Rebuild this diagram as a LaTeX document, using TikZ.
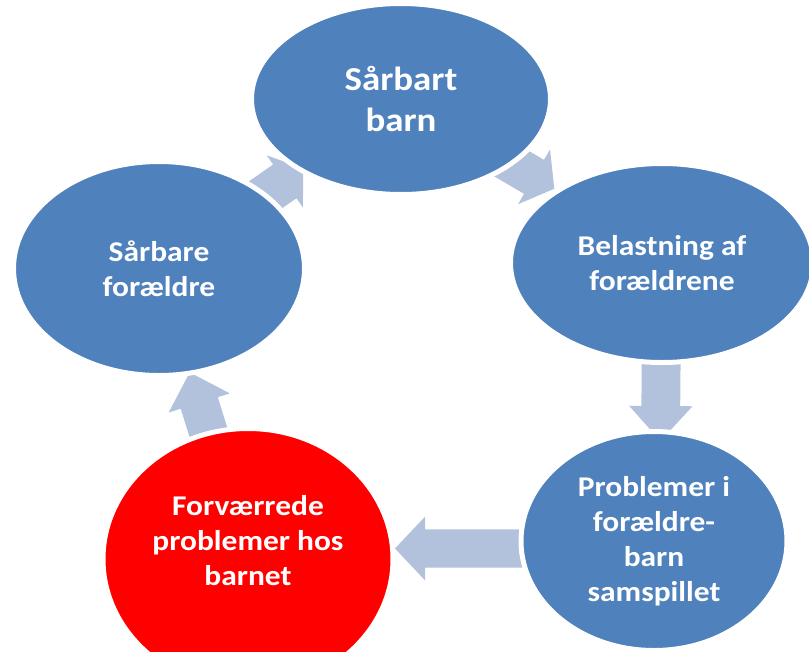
\documentclass[tikz,border=0pt]{standalone}
\usepackage{fontspec}
\setmainfont{Carlito}[FakeStretch=1.1]
\usetikzlibrary{shapes.geometric,calc,backgrounds}
\definecolor{ellblue}{RGB}{79,129,189}
\definecolor{arrowblue}{RGB}{178,193,220}
\definecolor{ellred}{RGB}{255,0,0}
\newcommand\blockarr[5]{%
  \path ($(#2)!#3!(#1)$) coordinate (hb);
  \fill[arrowfill] ($(#1)!#5!90:(#2)$) -- ($(hb)!#5!-90:(#1)$) -- ($(hb)!#4!-90:(#1)$)
    -- (#2) -- ($(hb)!#4!90:(#1)$) -- ($(hb)!#5!90:(#1)$) -- ($(#1)!#5!-90:(#2)$) -- cycle;}
\tikzset{
  ell/.style={ellipse, draw=white, line width=5pt, inner sep=0pt, text=white, align=center,
    font=\bfseries\fontsize{28.6}{35}\selectfont},
  blueell/.style={ell, fill=ellblue},
  redell/.style={ell, fill=ellred},
  lbl/.style={text=white, align=center, inner sep=0pt, font=\bfseries\fontsize{28.6}{35}\selectfont},
  arrowfill/.style={fill=arrowblue}
}
\begin{document}
\begin{tikzpicture}[x=1pt,y=-1pt]
\useasboundingbox (0,0) rectangle (809,651);
% ellipses
\node[blueell, minimum width=299pt, minimum height=191pt,
      font=\bfseries\fontsize{33.5}{40.5}\selectfont] (n1) at (401,99) {Sårbart\\barn};
\node[blueell, minimum width=303pt, minimum height=199pt] (n2) at (662,263) {Belastning af\\forældrene};
\node[blueell, minimum width=266pt, minimum height=219pt] (n3) at (654,541) {Problemer i\\forældre-\\barn\\samspillet};
\node[redell, minimum width=290pt, minimum height=261pt] (n4) at (248,559) {};
\node[lbl] (t4) at (248,541) {Forværrede\\problemer hos\\barnet};
\node[blueell, minimum width=291pt, minimum height=214pt] (n5) at (159,268.5) {Sårbare\\forældre};
% arrow tips and starts
\coordinate (tA) at (303.3,168.6);
\coordinate (tB) at (554.3,188.7);
\coordinate (tC) at (660.5,441);
\coordinate (sD) at (654,548.5);
\coordinate (tD) at (395,548.5);
\coordinate (tE) at (189.7,372.4);
\begin{pgfonlayer}{background}
  \fill[white] (0,0) rectangle (809,651);
  \blockarr{n5.center}{tA}{22.5pt}{31.7pt}{20.5pt}
  \blockarr{n1.center}{tB}{23.5pt}{31.7pt}{19.7pt}
  \blockarr{n2.center}{tC}{35pt}{31.7pt}{19.4pt}
  \blockarr{sD}{tD}{30pt}{31.8pt}{19.2pt}
  \blockarr{n4.center}{tE}{32pt}{32pt}{19.4pt}
\end{pgfonlayer}
\end{tikzpicture}
\end{document}
